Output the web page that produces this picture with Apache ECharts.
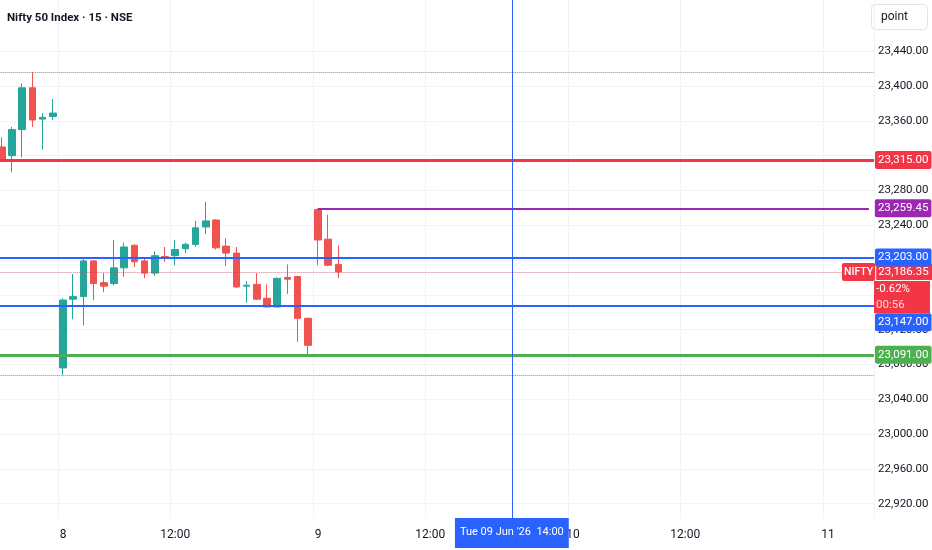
<!DOCTYPE html>
<html lang="en">
<head>
    <meta charset="utf-8" />
    <title>Nifty 50 Index · 15 · NSE</title>
    <script src="https://cdn.jsdelivr.net/npm/echarts@6/dist/echarts.min.js"></script>
    <style>
        body {
            margin: 0;
            padding: 0;
            background: #fff;
        }

        #main {
            width: 932px;
            height: 550px;
        }
    </style>
</head>
<body>
<div id="main"></div>
<script type="text/javascript">
    // 15 minute session slots, NSE
    const days = ['5', '8', '9', '10', '11'];
    const sessionTimes = ['09:15', '09:30', '09:45', '10:00', '10:15', '10:30', '10:45', '11:00', '11:15',
        '11:30', '11:45', '12:00', '12:15', '12:30', '12:45', '13:00', '13:15', '13:30', '13:45', '14:00',
        '14:15', '14:30', '14:45', '15:00', '15:15'];
    const firstSlot = '5 14:00';
    const lastSlot = '11 10:15';

    // candles, oldest first (from 5 14:00)
    const opens = [23330, 23320, 23350, 23398, 23362, 23365, 23076, 23155, 23158, 23199, 23174, 23173,
        23191, 23217, 23199, 23185, 23204, 23205, 23213, 23218, 23238, 23246, 23216, 23208, 23170, 23172,
        23156, 23146, 23180, 23181, 23133, 23258, 23224, 23195];
    const closes = [23316, 23350, 23398, 23361, 23364, 23369, 23154, 23158, 23199, 23173, 23170, 23191,
        23215, 23198, 23185, 23205, 23202, 23212, 23218, 23237, 23245, 23214, 23208, 23169, 23171, 23155,
        23146, 23179, 23178, 23133, 23102, 23223, 23194, 23186.35];
    const lows = [23313, 23301, 23318, 23353, 23327, 23361, 23068, 23132, 23125, 23154, 23163, 23171,
        23181, 23192, 23179, 23182, 23198, 23194, 23208, 23215, 23230, 23212, 23193, 23168, 23151, 23154,
        23146, 23146, 23161, 23106, 23091, 23194, 23193, 23179];
    const highs = [23341, 23353, 23403, 23416, 23369, 23385, 23156, 23184, 23201, 23200, 23185, 23223,
        23220, 23218, 23202, 23210, 23215, 23223, 23220, 23245, 23267, 23247, 23225, 23215, 23176, 23185,
        23172, 23180, 23195, 23182, 23134, 23259.45, 23252, 23217];

    // price scale
    const priceTicks = [22920, 22960, 23000, 23040, 23080, 23120, 23160, 23200, 23240, 23280, 23320,
        23360, 23400, 23440];
    const priceMin = 22903.5;
    const priceMax = 23498.9;

    // drawn levels
    const redLevel = 23315;
    const purpleLevel = 23259.45;
    const purpleFrom = '9 09:15';
    const blueLevels = [23203, 23147];
    const greenLevel = 23091;
    const prevHigh = 23416;
    const prevLow = 23068;
    const lastPrice = 23186.35;
    const changePct = '-0.62%';
    const countdown = '00:56';
    const crosshairAt = '9 14:00';
    const crosshairText = "Tue 09 Jun '26  14:00";

    const FONT = "Roboto, 'Liberation Sans', sans-serif";
    const UP = '#26a69a';
    const DOWN = '#ef5350';
    const PRICE_SIZE = 11.5;

    // build the slot list
    let allSlots = [];
    days.forEach(d => sessionTimes.forEach(t => allSlots.push(d + ' ' + t)));
    const categories = allSlots.slice(allSlots.indexOf(firstSlot), allSlots.indexOf(lastSlot) + 1);
    const candles = opens.map((o, i) => [o, closes[i], lows[i], highs[i]]);

    const fmt = v => Number(v).toLocaleString('en-US', {minimumFractionDigits: 2, maximumFractionDigits: 2});
    const showSlot = (idx, val) => /(09:15|12:00)$/.test(val);

    // price tag on the scale; drop pushes it down when it would collide with another tag
    const levelLabel = (bg, value, dist, drop) => ({
        show: true,
        position: 'end',
        distance: dist || 1,
        formatter: (drop ? '{sp| }\n' : '') + '{b|' + fmt(value) + '}',
        rich: {
            sp: {height: 2 * (drop || 0), lineHeight: 2 * (drop || 0), fontSize: 10},
            b: {
                color: '#fff',
                backgroundColor: bg,
                padding: [0, 3, 0, 3],
                height: 18,
                lineHeight: 18,
                borderRadius: 2,
                fontSize: PRICE_SIZE,
                fontFamily: FONT
            }
        }
    });

    const lastRow = {
        backgroundColor: '#f23645', color: '#fff', fontSize: PRICE_SIZE,
        fontFamily: FONT, width: 54, height: 16, lineHeight: 16, padding: [0, 0, 0, 2]
    };

    var myChart = echarts.init(document.getElementById('main'));

    var option = {
        animation: false,
        backgroundColor: '#fff',
        title: [
            {
                text: 'Nifty 50 Index · 15 · NSE',
                left: 7,
                top: 12,
                padding: 0,
                textStyle: {color: '#131722', fontSize: 11.5, fontWeight: 'bold', fontFamily: FONT}
            },
            {
                text: 'point',
                right: 4,
                top: 4,
                padding: [7, 20, 7, 10],
                borderColor: '#e0e3eb',
                borderWidth: 1,
                borderRadius: 4,
                textStyle: {color: '#131722', fontSize: 12, fontWeight: 'normal', fontFamily: FONT}
            }
        ],
        grid: {left: -3.3, right: 58, top: 0, bottom: 32, outerBoundsMode: 'none', containLabel: false},
        xAxis: {
            type: 'category',
            data: categories,
            boundaryGap: true,
            axisLine: {show: false},
            axisTick: {show: false},
            axisLabel: {
                interval: showSlot,
                margin: 11,
                color: '#131722',
                fontSize: 12,
                fontFamily: FONT,
                formatter: v => v.endsWith('09:15') ? v.split(' ')[0] : v.split(' ')[1]
            },
            splitLine: {show: true, interval: showSlot, lineStyle: {color: '#f0f3fa', width: 1}},
            axisPointer: {
                show: true,
                status: 'show',
                value: categories.indexOf(crosshairAt),
                type: 'line',
                triggerTooltip: false,
                lineStyle: {color: '#2962ff', width: 1, type: 'solid'},
                label: {
                    show: true,
                    formatter: () => crosshairText,
                    backgroundColor: '#2962ff',
                    color: '#fff',
                    padding: [9, 5, 10, 5],
                    margin: 0,
                    borderRadius: 0,
                    fontSize: 11,
                    fontFamily: FONT
                }
            }
        },
        yAxis: {
            type: 'value',
            position: 'right',
            scale: true,
            min: priceMin,
            max: priceMax,
            axisLine: {show: false},
            axisTick: {show: false, customValues: priceTicks},
            axisLabel: {
                customValues: priceTicks,
                margin: 4,
                color: '#131722',
                fontSize: PRICE_SIZE,
                fontFamily: FONT,
                formatter: v => fmt(v)
            },
            splitLine: {show: true, lineStyle: {color: '#f0f3fa', width: 1}}
        },
        series: [
            {
                name: 'NIFTY',
                type: 'candlestick',
                data: candles,
                barWidth: 7,
                itemStyle: {
                    color: UP,
                    color0: DOWN,
                    borderColor: UP,
                    borderColor0: DOWN,
                    borderWidth: 1
                },
                markLine: {
                    silent: true,
                    symbol: ['none', 'none'],
                    animation: false,
                    emphasis: {disabled: true},
                    data: [
                        {yAxis: prevHigh, lineStyle: {color: '#8a8d96', width: 1, type: 'dotted'}, label: {show: false}},
                        {yAxis: prevLow, lineStyle: {color: '#8a8d96', width: 1, type: 'dotted'}, label: {show: false}},
                        {
                            yAxis: lastPrice,
                            lineStyle: {color: 'rgba(242, 54, 69, 0.7)', width: 1, type: 'dotted'},
                            label: {
                                show: true,
                                position: 'end',
                                distance: -32,
                                fontFamily: FONT,
                                formatter: '{sp| }\n{tag|NIFTY}{gap| }{p|' + fmt(lastPrice) + '}\n{ind| }{p|' +
                                    changePct + '}\n{ind| }{t|' + countdown + '}',
                                rich: {
                                    sp: {height: 32, lineHeight: 32, fontSize: 10},
                                    tag: {
                                        backgroundColor: '#f23645', color: '#fff', fontSize: 10.5,
                                        fontWeight: 500, fontFamily: FONT, height: 18, lineHeight: 18,
                                        padding: [0, 2, 0, 2], borderRadius: 2
                                    },
                                    gap: {width: 1, height: 16, lineHeight: 16},
                                    ind: {width: 32, height: 16, lineHeight: 16},
                                    p: lastRow,
                                    t: Object.assign({}, lastRow, {color: '#fcd3d6'})
                                }
                            }
                        },
                        {yAxis: redLevel, lineStyle: {color: '#f23645', width: 3, type: 'solid'}, label: levelLabel('#f23645', redLevel)},
                        [
                            {
                                coord: [purpleFrom, purpleLevel],
                                lineStyle: {color: '#9c27b0', width: 2, type: 'solid'},
                                label: levelLabel('#9c27b0', purpleLevel, 6)
                            },
                            {coord: [categories[categories.length - 1], purpleLevel]}
                        ],
                        {yAxis: blueLevels[0], lineStyle: {color: '#2962ff', width: 2, type: 'solid'}, label: levelLabel('#2962ff', blueLevels[0])},
                        {yAxis: blueLevels[1], lineStyle: {color: '#2962ff', width: 2, type: 'solid'}, label: levelLabel('#2962ff', blueLevels[1], 1, 16)},
                        {yAxis: greenLevel, lineStyle: {color: '#4caf50', width: 3, type: 'solid'}, label: levelLabel('#4caf50', greenLevel)}
                    ]
                }
            }
        ]
    };

    myChart.setOption(option);
</script>
</body>
</html>
